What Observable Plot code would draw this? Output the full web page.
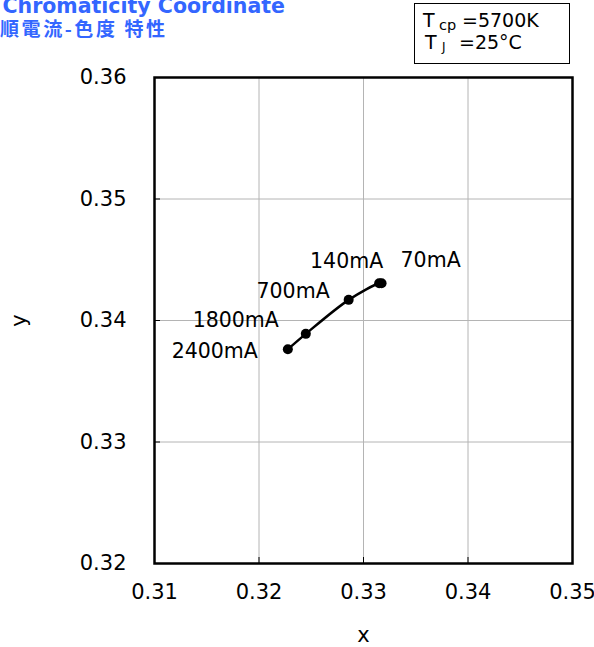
<!DOCTYPE html>
<html>
<head>
<meta charset="utf-8">
<script src="https://cdn.jsdelivr.net/npm/d3@7"></script>
<script src="https://cdn.jsdelivr.net/npm/@observablehq/plot@0.6"></script>
<style>
  html, body { margin: 0; padding: 0; background: #fff; }
  #chart svg { display: block; }
</style>
</head>
<body>
<div id="chart"></div>
<script>
// ---- data ----
const currents = ["2400mA", "1800mA", "700mA", "140mA", "70mA"];
const cieX = [0.32276, 0.32448, 0.32858, 0.33150, 0.33173];
const cieY = [0.33763, 0.33890, 0.34170, 0.34307, 0.34307];
const xTicks = [0.31, 0.32, 0.33, 0.34, 0.35];
const yTicks = [0.32, 0.33, 0.34, 0.35, 0.36];
const titleLine1 = "Chromaticity Coordinate";
const titleLine2 = "順電流-色度 特性";

const points = currents.map((c, i) => ({current: c, x: cieX[i], y: cieY[i]}));

// ---- label layout (styling) ----
const labelLayout = {
  "2400mA": {anchor: "end", dx: -30, dy: 2},
  "1800mA": {anchor: "end", dx: -27, dy: -13},
  "700mA":  {anchor: "end", dx: -19, dy: -8},
  "140mA":  {anchor: "end", dx: 4, dy: -22},
  "70mA":   {anchor: "start", dx: 19, dy: -23}
};

const W = 594, H = 647;
const mL = 154, mR = 22, mT = 77, mB = 84;
const fw = W - mL - mR, fh = H - mT - mB;
const font = "'DejaVu Sans', Verdana, sans-serif";

const labelMarks = currents.map(c => {
  const L = labelLayout[c];
  return Plot.text(points.filter(d => d.current === c), {
    x: "x", y: "y", text: "current",
    textAnchor: L.anchor, dx: L.dx, dy: L.dy,
    fontSize: 20.5, fill: "#000"
  });
});

const chart = Plot.plot({
  width: W, height: H,
  marginLeft: mL, marginRight: mR, marginTop: mT, marginBottom: mB,
  style: {fontFamily: font, background: "#fff", color: "#000"},
  x: {domain: [0.31, 0.35]},
  y: {domain: [0.32, 0.36]},
  marks: [
    Plot.gridX(xTicks, {stroke: "#b4b4b4", strokeOpacity: 1, strokeWidth: 1}),
    Plot.gridY(yTicks, {stroke: "#b4b4b4", strokeOpacity: 1, strokeWidth: 1}),
    Plot.ruleX(xTicks, {x: d => d, insetTop: fh - 6, stroke: "#000", strokeWidth: 1}),
    Plot.ruleY(yTicks, {y: d => d, insetRight: fw - 6, stroke: "#000", strokeWidth: 1}),
    Plot.axisX(xTicks, {tickSize: 0, tickPadding: 21, fontSize: 21, tickFormat: d3.format(".2f"),
      label: "x", labelAnchor: "center", labelArrow: "none", labelOffset: 78}),
    Plot.axisY(yTicks, {tickSize: 0, tickPadding: 28, fontSize: 21, tickFormat: d3.format(".2f"),
      label: "y", labelAnchor: "center", labelArrow: "none", labelOffset: 143}),
    Plot.line(points, {x: "x", y: "y", curve: "catmull-rom", stroke: "#000", strokeWidth: 2.5}),
    Plot.dot(points, {x: "x", y: "y", r: 5, fill: "#000"}),
    ...labelMarks,
    Plot.frame({stroke: "#000", strokeWidth: 2.5})
  ]
});

const svg = d3.select(chart);
// Title
svg.append("text").attr("x", 285).attr("y", 13).attr("text-anchor", "end")
  .attr("font-family", "'DejaVu Sans', Verdana, sans-serif").attr("font-weight", "bold")
  .attr("font-size", 20.5).attr("fill", "#3366ff").text(titleLine1);
svg.append("text").attr("x", 0).attr("y", 36).attr("text-anchor", "start")
  .attr("textLength", 165).attr("lengthAdjust", "spacing")
  .attr("font-family", "'Noto Sans CJK JP', sans-serif").attr("font-weight", "bold")
  .attr("font-size", 19).attr("fill", "#3366ff").text(titleLine2);

// Condition box
const g = svg.append("g").attr("font-family", font).attr("fill", "#000").attr("text-anchor", "start");
g.append("rect").attr("x", 414.5).attr("y", 3.5).attr("width", 155).attr("height", 60)
  .attr("fill", "#fff").attr("stroke", "#000").attr("stroke-width", 1);
const t1 = g.append("text").attr("y", 27).attr("font-size", 19).attr("text-anchor", "start");
t1.append("tspan").attr("x", 423).text("T");
t1.append("tspan").attr("x", 439).attr("dy", 2.5).attr("font-size", 14.5).text("cp");
t1.append("tspan").attr("x", 462).attr("dy", -2.5).text("=5700K");
const t2 = g.append("text").attr("y", 48.5).attr("font-size", 19).attr("text-anchor", "start");
t2.append("tspan").attr("x", 425).text("T");
t2.append("tspan").attr("x", 442).attr("dy", 2).attr("font-size", 12).text("J");
t2.append("tspan").attr("x", 459).attr("dy", -2).text("=25°C");

document.getElementById("chart").appendChild(chart);
</script>
</body>
</html>
